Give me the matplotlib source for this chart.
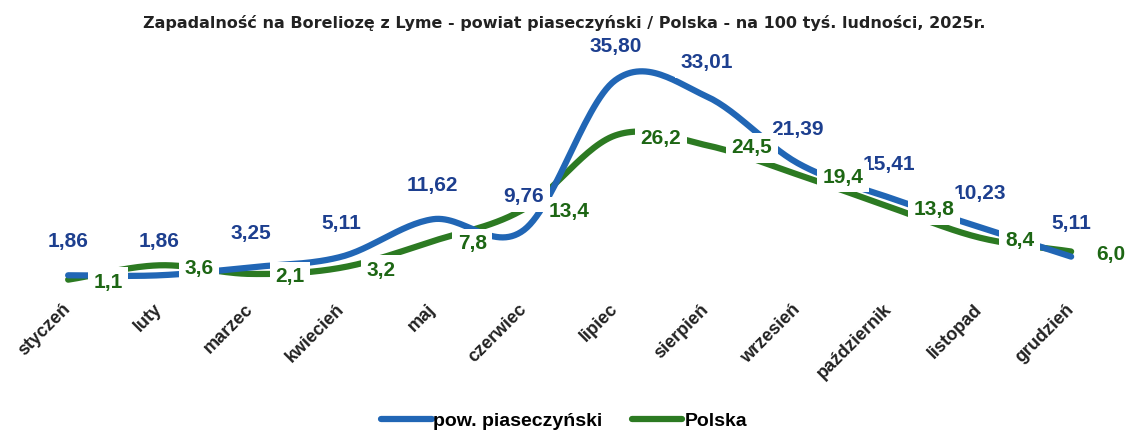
import numpy as np
import matplotlib.pyplot as plt

months = ["styczeń", "luty", "marzec", "kwiecień", "maj", "czerwiec", "lipiec",
          "sierpień", "wrzesień", "październik", "listopad", "grudzień"]
piaseczno = [1.86, 1.86, 3.25, 5.11, 11.62, 9.76, 35.80, 33.01, 21.39, 15.41, 10.23, 5.11]
polska = [1.1, 3.6, 2.1, 3.2, 7.8, 13.4, 26.2, 24.5, 19.4, 13.8, 8.4, 6.0]

blue = "#2166b5"
blue_txt = "#1d3f8f"
green = "#2c7a22"
green_txt = "#1d6614"


def smooth(y, n=30):
    # catmull-rom curve through the points (like the "smoothed line" option)
    y = np.asarray(y, dtype=float)
    x = np.arange(len(y), dtype=float)
    px = np.concatenate([[2 * x[0] - x[1]], x, [2 * x[-1] - x[-2]]])
    py = np.concatenate([[2 * y[0] - y[1]], y, [2 * y[-1] - y[-2]]])
    xs, ys = [], []
    t = np.linspace(0, 1, n, endpoint=False)
    for i in range(1, len(px) - 2):
        for p, out in ((px, xs), (py, ys)):
            p0, p1, p2, p3 = p[i - 1], p[i], p[i + 1], p[i + 2]
            out.extend(0.5 * (2 * p1 + (-p0 + p2) * t + (2 * p0 - 5 * p1 + 4 * p2 - p3) * t ** 2
                              + (-p0 + 3 * p1 - 3 * p2 + p3) * t ** 3))
    xs.append(x[-1])
    ys.append(y[-1])
    return np.array(xs), np.array(ys)


fig = plt.figure(figsize=(11.28, 4.32), dpi=100)
ax = fig.add_axes([0.02, 0.338, 0.97, 0.532])

x = np.arange(len(months))
sx, sy = smooth(piaseczno)
ax.plot(sx, sy, color=blue, lw=4.5, solid_capstyle="round", label="pow. piaseczyński", zorder=3)
sx, sy = smooth(polska)
ax.plot(sx, sy, color=green, lw=4.5, solid_capstyle="round", label="Polska", zorder=2)

box = dict(fc="white", ec="none", pad=4)
for i, v in enumerate(piaseczno):
    ax.annotate(f"{v:.2f}".replace(".", ","), (x[i], v), xytext=(0, 24), textcoords="offset points",
                ha="center", va="center", color=blue_txt, fontsize=15, fontweight="bold",
                family="Liberation Sans", bbox=box, zorder=5)
for i, v in enumerate(polska):
    ax.annotate(f"{v:.1f}".replace(".", ","), (x[i], v), xytext=(18, -2), textcoords="offset points",
                ha="left", va="center", color=green_txt, fontsize=15, fontweight="bold",
                family="Liberation Sans", bbox=box, zorder=5)

ax.set_xlim(-0.5, len(months) - 0.5)
ax.set_ylim(0, 40)
ax.set_xticks(x)
ax.set_xticklabels(months, rotation=45, ha="right", va="center", rotation_mode="anchor",
                   fontsize=13, fontweight="bold", family="Liberation Sans", color="#222222")
ax.tick_params(axis="x", length=0, pad=15)
ax.set_yticks([])
for s in ax.spines.values():
    s.set_visible(False)

fig.suptitle("Zapadalność na Boreliozę z Lyme - powiat piaseczyński / Polska - na 100 tyś. ludności, 2025r.",
             y=0.965, fontsize=11.5, fontweight="bold", color="#222222")

fig.legend(loc="lower center", bbox_to_anchor=(0.5, -0.035), ncol=2, frameon=False,
           handlelength=2.6, handletextpad=0.1, columnspacing=1.5,
           prop={"weight": "bold", "size": 14, "family": "Liberation Sans"})

fig.savefig("out.png", dpi=100)
